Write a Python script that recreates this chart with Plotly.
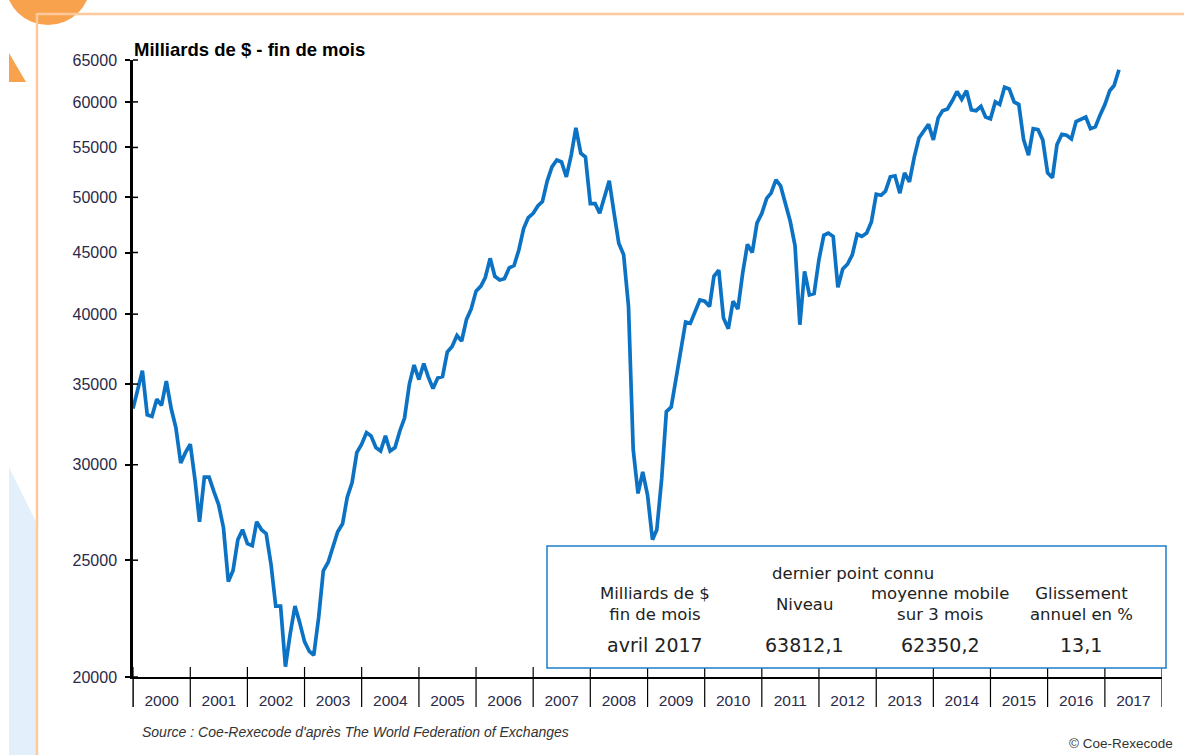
import math
import pandas as pd
import plotly.graph_objects as go

# ---- data (monthly, Jan 2000 -> Apr 2017, billions of $) ----
start_month = "2000-01-01"
values = [
    33400, 34600, 35900, 33000, 32900, 34000, 33600, 35200, 33400, 32200, 30100, 30700,  # 2000
    31200, 29100, 26900, 29300, 29300, 28500, 27800, 26600, 24000, 24500, 26000, 26500,  # 2001
    25800, 25700, 26900, 26500, 26300, 24800, 22900, 22900, 20400, 21700, 22900, 22200,  # 2002
    21400, 21000, 20850, 22400, 24500, 24900, 25700, 26400, 26800, 28200, 29000, 30700,  # 2003
    31200, 31900, 31700, 31000, 30800, 31700, 30800, 31000, 32000, 32800, 35000, 36300,  # 2004
    35300, 36400, 35500, 34700, 35400, 35500, 37200, 37600, 38400, 38000, 39600, 40400,  # 2005
    41800, 42200, 42900, 44500, 43000, 42700, 42800, 43700, 43900, 45200, 47100, 48100,  # 2006
    48500, 49200, 49600, 51600, 53000, 53700, 53500, 52000, 54200, 57100, 54400, 54000,  # 2007
    49400, 49400, 48500, 50200, 51600, 48500, 45800, 44800, 40600, 30900, 28400, 29600,  # 2008
    28300, 26000, 26500, 29200, 33200, 33500, 35300, 37300, 39400, 39300, 40200, 41100,  # 2009
    41000, 40600, 43000, 43500, 39700, 38900, 41000, 40400, 43300, 45700, 45000, 47600,  # 2010
    48500, 49900, 50400, 51700, 51100, 49500, 47800, 45600, 39200, 43400, 41500, 41600,  # 2011
    44400, 46500, 46700, 46400, 42100, 43600, 44000, 44800, 46600, 46400, 46700, 47700,  # 2012
    50300, 50200, 50600, 52000, 52100, 50400, 52400, 51500, 54000, 56000, 56800, 57500,  # 2013
    55800, 58200, 59000, 59200, 60100, 61200, 60300, 61300, 59100, 59000, 59500, 58300,  # 2014
    58100, 60000, 59700, 61700, 61500, 60000, 59700, 55800, 54200, 57000, 56900, 55800,  # 2015
    52400, 51900, 55300, 56400, 56300, 55900, 57800, 58100, 58300, 57000, 57200, 58500,  # 2016
    59700, 61300, 61900, 63800,                                                          # 2017
]
years = list(range(2000, 2018))
y_ticks = [20000, 25000, 30000, 35000, 40000, 45000, 50000, 55000, 60000, 65000]
y_min, y_max = 20000, 65000

title_text = "Milliards de $ - fin de mois"
table_header = "dernier point connu"
table_cols = [["Milliards de $", "fin de mois"], ["Niveau"], ["moyenne mobile", "sur 3 mois"], ["Glissement", "annuel en %"]]
table_vals = ["avril 2017", "63812,1", "62350,2", "13,1"]
source_text = "Source : Coe-Rexecode d'après The World Federation of Exchanges"
copyright_text = "© Coe-Rexecode"

dates = pd.date_range(start_month, periods=len(values), freq="MS")

# ---- layout geometry (pixels) ----
W, H = 1184, 755
L, R, T, B = 133, 1162, 60, 677


def px(x):
    return (x - L) / (R - L)


def py(y):
    return (B - y) / (B - T)


fig = go.Figure()
fig.add_trace(go.Scatter(
    x=dates, y=values, mode="lines",
    line=dict(color="#0b72c4", width=3.7),
    hoverinfo="x+y", showlegend=False,
))

shapes = []
ORANGE = "#f8a24e"
ORANGE_LIGHT = "#fcc89c"
# decorative page elements
shapes.append(dict(type="path", xref="paper", yref="paper",
                   path=f"M {px(9)} {py(467)} L {px(36)} {py(522)} L {px(36)} {py(755)} L {px(9)} {py(755)} Z",
                   fillcolor="#e3effb", line=dict(width=0), layer="below"))
shapes.append(dict(type="circle", xref="paper", yref="paper",
                   x0=px(48 - 43), x1=px(48 + 43), y0=py(-18 - 43), y1=py(-18 + 43),
                   fillcolor=ORANGE, line=dict(width=0), layer="below"))
shapes.append(dict(type="path", xref="paper", yref="paper",
                   path=f"M {px(9)} {py(53)} L {px(26)} {py(82)} L {px(9)} {py(82)} Z",
                   fillcolor=ORANGE, line=dict(width=0), layer="below"))
shapes.append(dict(type="line", xref="paper", yref="paper",
                   x0=px(37), x1=px(1184), y0=py(14), y1=py(14),
                   line=dict(color=ORANGE_LIGHT, width=2.5)))
shapes.append(dict(type="line", xref="paper", yref="paper",
                   x0=px(37), x1=px(37), y0=py(13), y1=py(755),
                   line=dict(color=ORANGE_LIGHT, width=2.5)))
# white left margin strip
shapes.append(dict(type="rect", xref="paper", yref="paper",
                   x0=px(0), x1=px(9), y0=py(0), y1=py(755),
                   fillcolor="white", line=dict(width=0)))

# year boundary separators / ticks
for yv in years + [years[-1] + 1]:
    shapes.append(dict(type="line", xref="x", yref="paper",
                       x0=f"{yv}-01-01", x1=f"{yv}-01-01",
                       y0=py(707), y1=py(667),
                       line=dict(color="black", width=1.2)))
# y axis extension below x axis
shapes.append(dict(type="line", xref="paper", yref="paper",
                   x0=0, x1=0, y0=py(707), y1=0,
                   line=dict(color="black", width=1.2)))
# y axis cross ticks (inner part)
for tv in y_ticks:
    frac = (math.log10(tv) - math.log10(y_min)) / (math.log10(y_max) - math.log10(y_min))
    shapes.append(dict(type="line", xref="paper", yref="paper",
                       x0=0, x1=px(L + 5), y0=frac, y1=frac,
                       line=dict(color="black", width=1.5)))

# table box
shapes.append(dict(type="rect", xref="paper", yref="paper",
                   x0=px(547), x1=px(1166), y0=py(668), y1=py(546),
                   fillcolor="white", line=dict(color="#1d7dc8", width=1.5), layer="above"))

annotations = []
annotations.append(dict(text=f"<b>{title_text}</b>", xref="paper", yref="paper",
                        x=px(132), y=py(49), xanchor="left", yanchor="middle",
                        showarrow=False, font=dict(size=18.5, color="black", family="Liberation Sans, Arial")))

TFONT = dict(size=16.5, color="#222222", family="DejaVu Sans, Verdana")
annotations.append(dict(text=table_header, xref="paper", yref="paper", x=px(853), y=py(573),
                        xanchor="center", yanchor="middle", showarrow=False, font=TFONT))
col_x = [655, 804, 940, 1081]
for cx, lines in zip(col_x, table_cols):
    cy = 604 if len(lines) == 1 else 603.5
    annotations.append(dict(text="<br>".join(lines), xref="paper", yref="paper", x=px(cx), y=py(cy),
                            xanchor="center", yanchor="middle", showarrow=False, font=TFONT,
                            align="center"))
for cx, v in zip(col_x, table_vals):
    annotations.append(dict(text=v, xref="paper", yref="paper", x=px(cx), y=py(645),
                            xanchor="center", yanchor="middle", showarrow=False,
                            font=dict(size=19, color="#222222", family="DejaVu Sans, Verdana")))

annotations.append(dict(text=f"<i>{source_text}</i>", xref="paper", yref="paper",
                        x=px(140), y=py(732), xanchor="left", yanchor="middle", showarrow=False,
                        font=dict(size=14, color="#333333", family="Liberation Sans, Arial")))
annotations.append(dict(text=copyright_text, xref="paper", yref="paper",
                        x=px(1175), y=py(743), xanchor="right", yanchor="middle", showarrow=False,
                        font=dict(size=13.5, color="#333333", family="Liberation Sans, Arial")))

fig.update_layout(
    width=W, height=H,
    margin=dict(l=L, r=W - R, t=T, b=H - B),
    paper_bgcolor="white", plot_bgcolor="white",
    shapes=shapes, annotations=annotations,
    showlegend=False,
    xaxis=dict(
        range=[f"{years[0]}-01-01", f"{years[-1] + 1}-01-01"],
        tickvals=[f"{yv}-07-02" for yv in years],
        ticktext=[str(yv) for yv in years],
        ticks="outside", ticklen=8, tickcolor="rgba(0,0,0,0)",
        showgrid=False, zeroline=False,
        showline=True, linecolor="black", linewidth=2.2,
        tickfont=dict(size=15.5, color="#2a2a4a", family="Liberation Sans, Arial"),
        fixedrange=True,
    ),
    yaxis=dict(
        type="log",
        range=[math.log10(y_min), math.log10(y_max)],
        tickvals=y_ticks, ticktext=[str(v) for v in y_ticks],
        ticks="outside", ticklen=5, tickwidth=1.5, tickcolor="black",
        ticklabelstandoff=5,
        showgrid=False, zeroline=False,
        showline=True, linecolor="black", linewidth=2.5,
        tickfont=dict(size=16, color="#2a2a4a", family="Liberation Sans, Arial"),
        fixedrange=True,
    ),
)

fig.write_html(
    "out.html",
    config={"displayModeBar": False},
    post_script="document.body.style.margin='0';document.body.style.overflow='hidden';",
)
